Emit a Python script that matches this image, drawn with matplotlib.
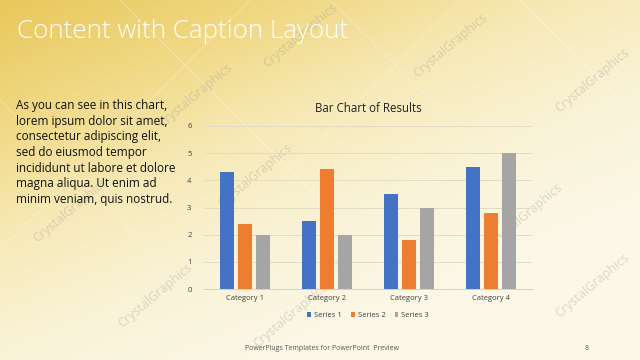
import numpy as np
import matplotlib
matplotlib.use("Agg")
import matplotlib.pyplot as plt
from matplotlib.colors import LinearSegmentedColormap

categories = ["Category 1", "Category 2", "Category 3", "Category 4"]
series_names = ["Series 1", "Series 2", "Series 3"]
series1 = [4.3, 2.5, 3.5, 4.5]
series2 = [2.4, 4.4, 1.8, 2.8]
series3 = [2.0, 2.0, 3.0, 5.0]
y_ticks = [0, 1, 2, 3, 4, 5, 6]
colors = ["#4472C4", "#ED7D31", "#A5A5A5"]

plt.rcParams['font.family'] = ['Open Sans', 'DejaVu Sans']

fig = plt.figure(figsize=(6.4, 3.6), dpi=100)

# background gradient
bg = fig.add_axes([0, 0, 1, 1])
bg.set_xlim(0, 640)
bg.set_ylim(360, 0)
bg.axis("off")
xx, yy = np.meshgrid(np.linspace(0, 1, 320), np.linspace(0, 1, 180))
t = np.clip(0.55 * xx + 0.75 * yy, 0, 1)
cmap = LinearSegmentedColormap.from_list(
    "bg", ["#E9C85C", "#F0D883", "#F7EAB8", "#FAF3D8", "#FCF8E8"])
bg.imshow(t, cmap=cmap, extent=[0, 640, 360, 0], aspect="auto", zorder=0)

# faint diagonal lines
for x0 in [-100, 120, 330, 520]:
    bg.plot([x0, x0 + 300], [0, 300], color="white", lw=0.6, alpha=0.35, zorder=1)
for x0 in [250, 460, 700]:
    bg.plot([x0, x0 - 300], [0, 300], color="white", lw=0.6, alpha=0.35, zorder=1)

# watermarks
wm = [(195, 95), (300, 35), (450, 45), (592, 80), (70, 210), (255, 175),
      (155, 295), (290, 315), (525, 215), (592, 285)]
for (wx, wy) in wm:
    bg.text(wx, wy, "CrystalGraphics", rotation=40, fontsize=9, color="#9a9a9a",
            alpha=0.35, ha="center", va="center", zorder=2)

# title
fig.text(17 / 640, 1 - 32 / 360, "Content with Caption Layout", fontsize=18.7,
         color="white", fontweight="light", ha="left", va="center")

caption = ("As you can see in this chart,\nlorem ipsum dolor sit amet,\n"
           "consectetur adipiscing elit,\nsed do eiusmod tempor\n"
           "incididunt ut labore et dolore\nmagna aliqua. Ut enim ad\n"
           "minim veniam, quis nostrud.")
fig.text(16 / 640, 1 - 99 / 360, caption, fontsize=8.45, color="#111111",
         ha="left", va="top", linespacing=1.27)

# footer
fig.text(245 / 640, 1 - 349 / 360, "PowerPlugs Templates for PowerPoint  Preview",
         fontsize=5, color="#555555", ha="left", va="center")
fig.text(587 / 640, 1 - 349 / 360, "8", fontsize=5, color="#555555",
         ha="center", va="center")

# chart
ax = fig.add_axes([204 / 640, 71 / 360, 328 / 640, 163 / 360])
ax.patch.set_alpha(0)
x = np.arange(len(categories))
w = 0.17
step = 0.22
for i, (vals, name) in enumerate(zip([series1, series2, series3], series_names)):
    ax.bar(x + (i - 1) * step, vals, width=w, color=colors[i], label=name, zorder=3)
ax.set_xlim(-0.5, len(categories) - 0.5)
ax.set_ylim(0, 6)
ax.set_yticks(y_ticks)
ax.set_yticklabels([str(v) for v in y_ticks])
ax.set_xticks(x)
ax.set_xticklabels(categories)
ax.tick_params(axis="both", length=0, labelsize=5.5, colors="#404040")
ax.tick_params(axis="y", pad=9)
ax.tick_params(axis="x", pad=4)
ax.grid(axis="y", color="#E3DCC4", lw=0.7, zorder=0)
for s in ["top", "right", "left"]:
    ax.spines[s].set_visible(False)
ax.spines["bottom"].set_color("#D9D2BA")
ax.spines["bottom"].set_linewidth(0.7)
ax.set_title("Bar Chart of Results", fontsize=8.3, color="#222222", pad=10)
leg = ax.legend(loc="upper center", bbox_to_anchor=(0.5, -0.1), ncol=3,
                frameon=False, fontsize=5.5, handlelength=0.5, handleheight=0.5,
                columnspacing=1.2, handletextpad=0.4)
for tx in leg.get_texts():
    tx.set_color("#404040")

fig.savefig("out.png", dpi=100)
